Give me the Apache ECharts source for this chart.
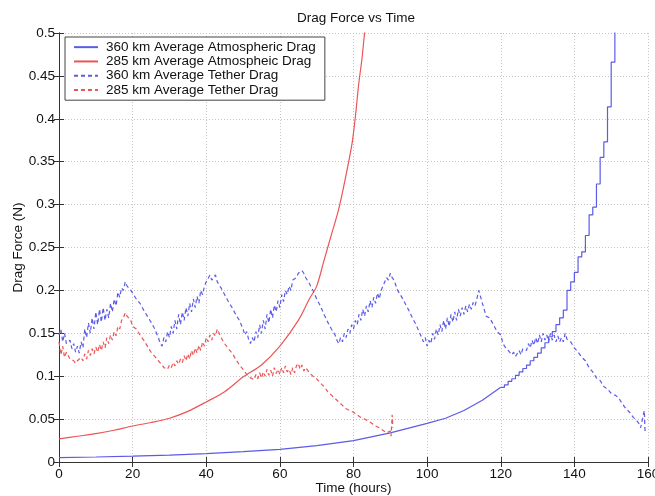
<!DOCTYPE html>
<html>
<head>
<meta charset="utf-8">
<script src="https://cdn.jsdelivr.net/npm/echarts@6/dist/echarts.min.js"></script>
<style>
html,body{margin:0;padding:0;background:#fff;}
#chart{width:655px;height:496px;}
</style>
</head>
<body>
<div id="chart"></div>
<script>
// ---- data ----
const seriesNames = [
  '360 km Average Atmospheric Drag',
  '285 km Average Atmospheic Drag',
  '360 km Average Tether Drag',
  '285 km Average Tether Drag'
];
const xTicks = [0, 20, 40, 60, 80, 100, 120, 140, 160];
const yTicks = [0, 0.05, 0.1, 0.15, 0.2, 0.25, 0.3, 0.35, 0.4, 0.45, 0.5];

// 360 km atmospheric drag, smooth early part
const atm360SmoothT = [0, 10, 20, 30, 40, 50, 60, 70, 80, 90, 100, 105, 110, 115, 120];
const atm360SmoothV = [0.005, 0.0058, 0.0068, 0.008, 0.0098, 0.012, 0.0148, 0.019, 0.025, 0.034, 0.045, 0.051, 0.06, 0.072, 0.087];
// 360 km atmospheric drag, stair-stepped late part
const atm360StepT = [120,121,122,123,124,125,126,127,128,129,130,131,132,133,134,135,136,137,138,139,140,141,142,143,144,145,146,147,148,149,150,151];
const atm360StepV = [0.087,0.09,0.094,0.097,0.101,0.105,0.109,0.113,0.118,0.122,0.127,0.133,0.139,0.146,0.152,0.16,0.168,0.177,0.2,0.21,0.221,0.239,0.245,0.264,0.288,0.297,0.324,0.355,0.373,0.414,0.466,0.55];

// 285 km atmospheric drag
const atm285T = [0, 5, 10, 15, 20, 25, 30, 35, 40, 45, 50, 55, 60, 65, 68, 70, 72, 74, 76, 78, 79.6, 80.5, 81.4, 82.3, 83, 84];
const atm285V = [0.027, 0.03, 0.033, 0.037, 0.042, 0.046, 0.051, 0.059, 0.07, 0.082, 0.099, 0.113, 0.135, 0.165, 0.19, 0.205, 0.235, 0.265, 0.295, 0.335, 0.371, 0.402, 0.44, 0.47, 0.5, 0.54];

// 360 km tether drag
const teth360T = [0,0.5,1,1.5,2,3,3.5,4,4.5,5,5.5,6,6.5,7,7.5,8,8.5,9,9.5,10,10.5,11,11.5,12,12.5,13,13.5,14,14.5,15,15.5,16,16.5,17,17.5,18,18.5,19,19.5,20,21,22,23,24,25,26,26.5,27,27.5,28,28.5,29,29.5,30,30.5,31,31.5,32,32.5,33,33.5,34,34.5,35,35.5,36,36.5,37,37.5,38,38.5,39,39.5,40,40.5,41,41.5,42,42.5,43,44,45,46,47,48,49,50,50.5,51,51.5,52,52.5,53,53.5,54,54.5,55,55.5,56,56.5,57,57.5,58,58.5,59,59.5,60,60.5,61,61.5,62,62.5,63,63.5,64,64.5,65,65.5,66,66.5,67,68,69,70,71,72,73,74,75,75.5,76,76.5,77,77.5,78,78.5,79,79.5,80,80.5,81,81.5,82,82.5,83,83.5,84,84.5,85,85.5,86,86.5,87,87.5,88,88.5,89,89.5,90,90.5,91,92,93,94,95,96,97,98,98.5,99,99.5,100,100.5,101,101.5,102,102.5,103,103.5,104,104.5,105,105.5,106,106.5,107,107.5,108,108.5,109,109.5,110,110.5,111,111.5,112,112.5,113,113.5,114,114.5,115,115.5,116,117,118,119,120,120.5,121,122,123,123.5,124,125,125.5,126,127,127.5,128,128.5,129,129.5,130,130.5,131,131.5,132,132.5,133,133.5,134,134.5,135,135.5,136,136.5,137,137.5,138,138.5,139,140,141,142,143,144,145,146,147,148,149,150,151,152,153,154,155,156,157,157.5,158,158.5,159,159.2];
const teth360V = [0.148,0.155,0.14,0.15,0.138,0.142,0.132,0.138,0.128,0.135,0.127,0.14,0.133,0.155,0.145,0.162,0.15,0.168,0.155,0.175,0.16,0.178,0.163,0.18,0.165,0.178,0.168,0.185,0.175,0.19,0.182,0.198,0.192,0.203,0.2,0.21,0.205,0.207,0.2,0.198,0.19,0.185,0.177,0.17,0.163,0.155,0.15,0.145,0.138,0.135,0.145,0.14,0.152,0.145,0.158,0.15,0.165,0.155,0.172,0.16,0.175,0.165,0.18,0.17,0.185,0.175,0.19,0.18,0.193,0.185,0.2,0.195,0.205,0.21,0.208,0.218,0.212,0.215,0.218,0.21,0.203,0.195,0.187,0.18,0.172,0.165,0.155,0.148,0.152,0.143,0.138,0.145,0.14,0.152,0.145,0.16,0.15,0.165,0.155,0.172,0.162,0.178,0.168,0.183,0.175,0.188,0.18,0.195,0.187,0.2,0.195,0.205,0.2,0.212,0.21,0.215,0.22,0.218,0.223,0.22,0.215,0.208,0.2,0.19,0.182,0.172,0.163,0.155,0.148,0.142,0.138,0.145,0.14,0.15,0.145,0.155,0.15,0.16,0.155,0.165,0.16,0.172,0.165,0.178,0.17,0.182,0.175,0.188,0.18,0.192,0.185,0.197,0.19,0.2,0.205,0.21,0.215,0.212,0.22,0.215,0.212,0.2,0.193,0.185,0.177,0.168,0.16,0.15,0.145,0.14,0.145,0.135,0.142,0.138,0.15,0.143,0.155,0.148,0.16,0.152,0.165,0.155,0.168,0.158,0.172,0.163,0.175,0.165,0.178,0.17,0.18,0.172,0.182,0.175,0.184,0.178,0.186,0.182,0.19,0.2,0.193,0.185,0.178,0.17,0.168,0.16,0.152,0.148,0.14,0.135,0.13,0.125,0.128,0.123,0.13,0.125,0.132,0.13,0.138,0.133,0.142,0.136,0.145,0.138,0.148,0.14,0.15,0.142,0.148,0.14,0.15,0.142,0.148,0.14,0.147,0.14,0.145,0.14,0.15,0.143,0.145,0.14,0.133,0.128,0.122,0.118,0.11,0.105,0.098,0.095,0.088,0.085,0.08,0.078,0.075,0.068,0.062,0.058,0.052,0.048,0.045,0.04,0.038,0.06,0.035];

// 285 km tether drag
const teth285T = [0,0.5,1,1.5,2,3,4,4.5,5,5.5,6,6.5,7,7.5,8,8.5,9,9.5,10,10.5,11,11.5,12,12.5,13,13.5,14,14.5,15,15.5,16,16.5,17,17.5,18,18.5,19,19.5,20,21,22,23,24,25,26,27,28,28.5,29,29.5,30,30.5,31,31.5,32,32.5,33,33.5,34,34.5,35,35.5,36,36.5,37,37.5,38,38.5,39,39.5,40,40.5,41,41.5,42,42.5,43,43.5,44,45,46,47,48,49,50,51,52,52.5,53,53.5,54,54.5,55,55.5,56,56.5,57,57.5,58,58.5,59,59.5,60,60.5,61,61.5,62,62.5,63,63.5,64,64.5,65,65.5,66,66.5,67,68,69,70,71,72,73,74,75,76,77,78,79,80,81,82,83,84,85,86,87,88,89,89.5,90,90.2,90.5,90.7];
const teth285V = [0.14,0.125,0.135,0.122,0.128,0.12,0.118,0.115,0.118,0.116,0.122,0.118,0.126,0.12,0.13,0.124,0.132,0.126,0.134,0.128,0.137,0.13,0.14,0.133,0.145,0.138,0.148,0.142,0.152,0.147,0.158,0.155,0.165,0.168,0.174,0.17,0.168,0.165,0.158,0.155,0.148,0.142,0.135,0.128,0.123,0.118,0.113,0.11,0.112,0.108,0.113,0.11,0.116,0.112,0.118,0.114,0.12,0.116,0.124,0.118,0.126,0.12,0.13,0.124,0.133,0.127,0.136,0.13,0.14,0.135,0.145,0.14,0.148,0.142,0.15,0.147,0.155,0.15,0.145,0.138,0.132,0.127,0.12,0.113,0.108,0.102,0.098,0.1,0.096,0.102,0.097,0.104,0.098,0.105,0.1,0.108,0.101,0.107,0.1,0.11,0.103,0.108,0.102,0.11,0.104,0.112,0.105,0.108,0.102,0.11,0.104,0.112,0.115,0.108,0.113,0.106,0.11,0.104,0.1,0.097,0.092,0.088,0.082,0.078,0.074,0.07,0.066,0.062,0.06,0.058,0.055,0.052,0.05,0.048,0.045,0.042,0.04,0.037,0.034,0.032,0.036,0.03,0.055,0.04];

// ---- chart ----
function pairs(t, v) { return t.map((x, i) => [x, v[i]]); }

const BLUE = '#5b5be8';
const RED = '#ec5555';
const FONT = 'Liberation Sans, Arial, Helvetica, sans-serif';
const FS = 13.5;
const DASH = [4, 3];

const chart = echarts.init(document.getElementById('chart'), null, {renderer: 'canvas'});
chart.setOption({
  animation: false,
  backgroundColor: '#fff',
  title: {
    text: 'Drag Force vs Time',
    left: 356, top: 11, textAlign: 'center', padding: 0,
    textStyle: {fontFamily: FONT, fontSize: FS, fontWeight: 'normal', color: '#111'}
  },
  legend: {
    data: seriesNames,
    orient: 'vertical',
    left: 65, top: 37,
    padding: [3, 9, 3, 8],
    itemGap: 0,
    itemWidth: 24, itemHeight: 10,
    backgroundColor: '#fff',
    borderColor: '#444', borderWidth: 1,
    itemStyle: {opacity: 0},
    textStyle: {fontFamily: FONT, fontSize: FS, color: '#111', lineHeight: 14.3, padding: [0, 0, 0, 3]}
  },
  grid: {left: 59, right: 7, top: 33, bottom: 34, containLabel: false, outerBoundsMode: 'none'},
  xAxis: [{
    type: 'value', min: xTicks[0], max: xTicks[xTicks.length - 1], interval: 20,
    name: 'Time (hours)', nameLocation: 'middle', nameGap: 19, nameMoveOverlap: false,
    nameTextStyle: {fontFamily: FONT, fontSize: FS, color: '#111'},
    axisLine: {show: true, lineStyle: {color: '#333', width: 1}},
    axisTick: {show: true, inside: true, length: 5, lineStyle: {color: '#333'}},
    axisLabel: {fontFamily: FONT, fontSize: FS, color: '#111', margin: 5},
    splitLine: {show: true, lineStyle: {color: '#c4c4c4', type: [1, 2], width: 1}}
  }, {
    type: 'value', position: 'top', min: 0, max: 160, interval: 20,
    axisLine: {show: true, lineStyle: {color: '#333', width: 1}},
    axisTick: {show: true, inside: true, length: 5, lineStyle: {color: '#333'}},
    axisLabel: {show: false}, splitLine: {show: false}
  }],
  yAxis: [{
    type: 'value', min: yTicks[0], max: yTicks[yTicks.length - 1], interval: 0.05,
    name: 'Drag Force (N)', nameLocation: 'middle', nameGap: 34, nameMoveOverlap: false,
    nameTextStyle: {fontFamily: FONT, fontSize: FS, color: '#111'},
    axisLine: {show: true, lineStyle: {color: '#333', width: 1}},
    axisTick: {show: true, inside: true, length: 5, lineStyle: {color: '#333'}},
    axisLabel: {fontFamily: FONT, fontSize: FS, color: '#111', margin: 4,
      formatter: v => String(Math.round(v * 100) / 100)},
    splitLine: {show: true, lineStyle: {color: '#c4c4c4', type: [1, 2], width: 1}}
  }, {
    type: 'value', position: 'right', min: 0, max: 0.5, interval: 0.05,
    axisLine: {show: true, lineStyle: {color: '#333', width: 1}},
    axisTick: {show: true, inside: true, length: 5, lineStyle: {color: '#333'}},
    axisLabel: {show: false}, splitLine: {show: false}
  }],
  series: [
    {name: seriesNames[0], type: 'line', symbol: 'none', clip: true,
     data: pairs(atm360SmoothT, atm360SmoothV),
     lineStyle: {color: BLUE, width: 1.2}, itemStyle: {color: BLUE}},
    {name: seriesNames[1], type: 'line', symbol: 'none', clip: true, smooth: 0.3,
     data: pairs(atm285T, atm285V),
     lineStyle: {color: RED, width: 1.2}, itemStyle: {color: RED}},
    {name: seriesNames[2], type: 'line', symbol: 'none', clip: true,
     data: pairs(teth360T, teth360V),
     lineStyle: {color: BLUE, width: 1.2, type: DASH}, itemStyle: {color: BLUE}},
    {name: seriesNames[3], type: 'line', symbol: 'none', clip: true,
     data: pairs(teth285T, teth285V),
     lineStyle: {color: RED, width: 1.2, type: DASH}, itemStyle: {color: RED}},
    {name: seriesNames[0], type: 'line', symbol: 'none', clip: true, step: 'end',
     data: pairs(atm360StepT, atm360StepV),
     lineStyle: {color: BLUE, width: 1.2}, itemStyle: {color: BLUE}}
  ]
});
</script>
</body>
</html>
